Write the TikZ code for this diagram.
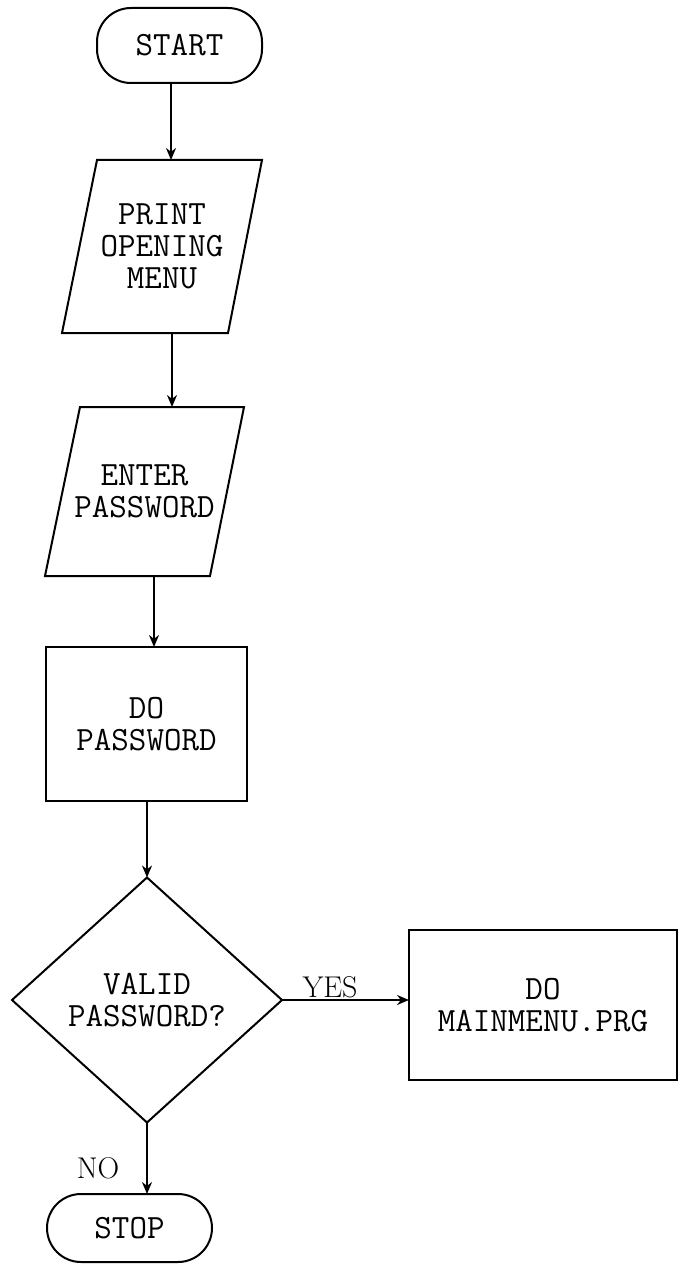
\documentclass[tikz,border=0pt]{standalone}
\usetikzlibrary{shapes.geometric,arrows.meta}
\begin{document}
\begin{tikzpicture}[x=1pt,y=-1pt,
  every node/.style={inner sep=0pt,outer sep=0pt},
  lbl/.style={font=\fontsize{34}{32}\selectfont\ttfamily,align=center},
  term/.style={lbl,draw,line width=2pt,rounded corners=34pt},
  proc/.style={lbl,draw,line width=2pt},
  iobox/.style={lbl},
  decide/.style={lbl,diamond,draw,line width=2pt},
  side/.style={font=\fontsize{30}{32}\selectfont\rmfamily},
  arr/.style={line width=2pt,-{Stealth[length=12pt,width=10pt]}},
  outline/.style={line width=2pt}]
\useasboundingbox (0,0) rectangle (678,1265);
\fill[white] (0,0) rectangle (678,1265);

\node[term,minimum width=165pt,minimum height=75pt] (start) at (179.5,45.5) {START};
\node[iobox,minimum width=200pt,minimum height=173pt] (p1) at (162,246.5) {PRINT\\OPENING\\MENU};
\draw[outline] ([xshift=35pt]p1.north west) -- (p1.north east) -- ([xshift=-34pt]p1.south east) -- (p1.south west) -- cycle;
\node[iobox,minimum width=199pt,minimum height=169pt] (p2) at (144.5,491.5) {ENTER\\PASSWORD};
\draw[outline] ([xshift=35pt]p2.north west) -- (p2.north east) -- ([xshift=-34pt]p2.south east) -- (p2.south west) -- cycle;
\node[proc,minimum width=201pt,minimum height=154pt] (dopw) at (146.5,724) {DO\\PASSWORD};
\node[decide,minimum width=270pt,minimum height=245pt] (valid) at (147,1000) {VALID\\PASSWORD?};
\node[proc,minimum width=268pt,minimum height=150pt] (mainmenu) at (543,1005) {DO\\MAINMENU.PRG};
\node[term,minimum width=165pt,minimum height=68pt] (stop) at (129.5,1228) {STOP};

\draw[arr] ([xshift=-8.5pt]start.south) -- ([xshift=-8.5pt]start.south |- p1.north);
\draw[arr] ([xshift=10pt]p1.south) -- ([xshift=10pt]p1.south |- p2.north);
\draw[arr] ([xshift=9.5pt]p2.south) -- ([xshift=9.5pt]p2.south |- dopw.north);
\draw[arr] (valid.north |- dopw.south) -- (valid.north);
\draw[arr] (valid.east) -- (valid.east -| mainmenu.west);
\draw[arr] (valid.south) -- (valid.south |- stop.north);

\node[side] (yes) at (330,987) {YES};
\node[side] (no) at (98,1168) {NO};
\end{tikzpicture}
\end{document}
